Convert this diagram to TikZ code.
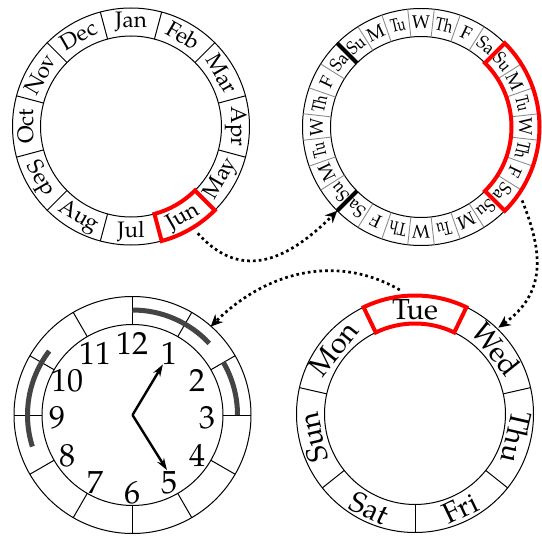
\documentclass[tikz,border=0pt]{standalone}
\usepackage{fontspec}
\usepackage{graphicx}
\setmainfont{TeX Gyre Pagella}
\usetikzlibrary{arrows.meta,calc}
\definecolor{busygray}{HTML}{444444}
\definecolor{tickgray}{HTML}{8C8C8C}
\begin{document}
\begin{tikzpicture}[x=0.5pt,y=0.5pt,
  rim/.style={line width=0.5pt},
  sep/.style={line width=0.5pt},
  wsep/.style={line width=0.45pt, draw=tickgray},
  weekend/.style={line width=2pt},
  redbox/.style={draw=red, line width=2pt},
  mlabel/.style={font=\fontsize{11.2}{12}\selectfont, inner sep=0pt},
  wlabel/.style={font=\fontsize{9.2}{10}\selectfont, inner sep=0pt},
  dlabel/.style={font=\fontsize{14.5}{15}\selectfont, inner sep=0pt},
  hnum/.style={font=\fontsize{16}{17}\selectfont, inner sep=0pt},
  flow/.style={line width=1.35pt, dash pattern=on 1.35pt off 1.55pt, -{Stealth[length=6pt,width=5.5pt]}},
  hand/.style={line width=1.2pt, -{Stealth[length=6pt,width=4pt]}},
  busy/.style={draw=busygray, line width=2.5pt},
]
\useasboundingbox (0,0) rectangle (542,537);
\def\Ro{118.5}
\def\Ri{90.5}
\def\Rm{104.5}
\coordinate (A) at (131,410.5);
\coordinate (B) at (421,410);
\coordinate (C) at (132.5,122);
\coordinate (D) at (415,123);

% ---------- months ----------
\begin{scope}[shift={(A)}]
  \draw[rim] (0,0) circle[radius=\Ro];
  \draw[rim] (0,0) circle[radius=\Ri];
  \foreach \a in {15,45,...,345} \draw[sep] (\a:\Ri) -- (\a:\Ro);
  \foreach \mn/\a/\r in {Jan/90/0, Feb/60/-30, Mar/30/-60, Apr/0/-90, May/-30/60, Jun/-60/30, Jul/-90/0, Aug/-120/-30, Sep/-150/-60, Oct/180/90, Nov/150/60, Dec/120/30}
    \node[mlabel, rotate=\r] (m\mn) at (\a:105) {\mn};
  \draw[redbox] (-75:\Ri) arc[start angle=-75, end angle=-45, radius=\Ri] -- (-45:\Ro) arc[start angle=-45, end angle=-75, radius=\Ro] -- cycle;
  \coordinate (junout) at (-58:126);
\end{scope}

% ---------- weeks ----------
\begin{scope}[shift={(B)}]
  \draw[rim] (0,0) circle[radius=\Ro];
  \draw[rim] (0,0) circle[radius=\Ri];
  \foreach \k in {0,...,27} {
    \pgfmathsetmacro\ang{135-\k*360/28}
    \draw[wsep] (\ang:\Ri) -- (\ang:\Ro);
  }
  \foreach \w in {0,1,2,3} {
    \foreach \dn/\sx [count=\j from 0] in {Su/0.86, M/1, Tu/0.72, W/1, Th/0.8, F/1, Sa/0.92} {
      \pgfmathsetmacro\ang{135-(7*\w+\j+0.5)*360/28}
      \pgfmathsetmacro\rot{\ang-90}
      \node[wlabel, rotate=\rot] (w\w-\j) at (\ang:\Rm) {\scalebox{\sx}[1]{\dn}};
    }
  }
  \draw[weekend] (135:\Ri) -- (135:\Ro);
  \draw[weekend] (225:\Ri) -- (225:\Ro);
  \draw[redbox] (45:\Ri) arc[start angle=45, end angle=-45, radius=\Ri] -- (-45:\Ro) arc[start angle=-45, end angle=45, radius=\Ro] -- cycle;
  \coordinate (wkin) at (225:\Ro);
  \coordinate (wkout) at (-36:125);
\end{scope}

% ---------- days ----------
\begin{scope}[shift={(D)}]
  \draw[rim] (0,0) circle[radius=\Ro];
  \draw[rim] (0,0) circle[radius=\Ri];
  \foreach \k in {0,...,6} {
    \pgfmathsetmacro\ang{90+180/7-\k*360/7}
    \draw[sep] (\ang:\Ri) -- (\ang:\Ro);
  }
  \foreach \dn/\a/\r in {Tue/90/0, Wed/38.571/-51.429, Thu/-12.857/-102.857, Fri/-64.286/25.714, Sat/-115.714/-25.714, Sun/-167.143/102.857, Mon/141.429/51.429}
    \node[dlabel, rotate=\r] (d\dn) at (\a:\Rm) {\dn};
  \draw[redbox] (64.286:\Ri) arc[start angle=64.286, end angle=115.714, radius=\Ri] -- (115.714:\Ro) arc[start angle=115.714, end angle=64.286, radius=\Ro] -- cycle;
  \coordinate (tueout) at (97:125);
  \coordinate (dayin) at (46:120);
\end{scope}

% ---------- clock ----------
\begin{scope}[shift={(C)}]
  \draw[rim] (0,0) circle[radius=\Ro];
  \draw[rim] (0,0) circle[radius=\Ri];
  \foreach \a in {0,30,...,330} \draw[sep] (\a:\Ri) -- (\a:\Ro);
  \foreach \h in {1,...,12}
    \node[hnum] (h\h) at ($({90-30*\h}:75)+(0,-3)$) {\h};
  \draw[busy] (90:105) arc[start angle=90, end angle=43, radius=105];
  \draw[busy] (30:105) arc[start angle=30, end angle=0, radius=105];
  \draw[busy] (142.5:105) arc[start angle=142.5, end angle=197.5, radius=105];
  \coordinate (ctr) at (0,0);
  \coordinate (htip) at (59:59);
  \coordinate (mtip) at (-58:65);
  \draw[hand] (ctr) -- (htip);
  \draw[hand] (ctr) -- (mtip);
  \coordinate (clkin) at (48.5:118);
\end{scope}

% ---------- flows ----------
\draw[flow] (junout) .. controls +(-48:62) and +(-135:75) .. (wkin);
\draw[flow] (wkout) to[out=-68, in=36, looseness=1.15] (dayin);
\draw[flow] (tueout) to[out=150, in=45] (clkin);
\end{tikzpicture}
\end{document}
